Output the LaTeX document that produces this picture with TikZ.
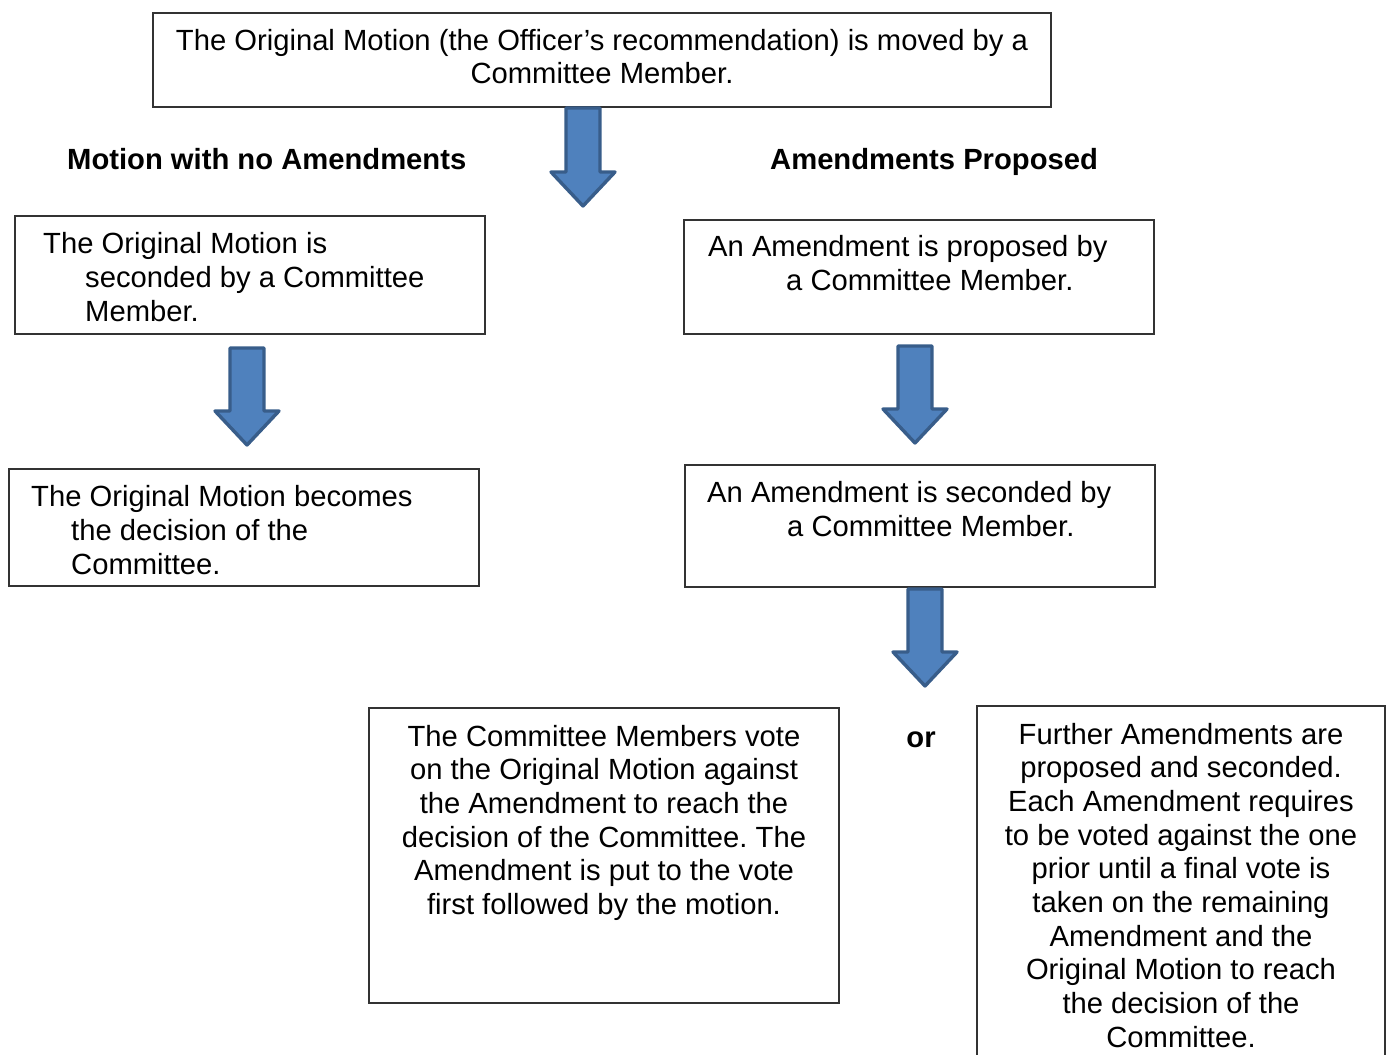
\documentclass[tikz,border=0pt]{standalone}
\usepackage{fontspec}
\setmainfont{Liberation Sans}
\frenchspacing
\definecolor{arrowfill}{HTML}{4F81BD}
\definecolor{arrowline}{HTML}{385D8A}
\begin{document}
\begin{tikzpicture}[x=1pt,y=-1pt,
  box/.style={draw=black!80, line width=1.3pt, inner sep=0pt},
  txt/.style={inner sep=0pt, font=\fontsize{29.2}{33.7}\selectfont},
  head/.style={inner sep=0pt, font=\fontsize{29.2}{33.7}\selectfont\bfseries},
  blockarrow/.style={fill=arrowfill, draw=arrowline, line width=3.4pt, line join=round}]

% page area
\useasboundingbox (0,0) rectangle (1391,1054);

% down block arrow: centre x, top y, tip y
\newcommand\blockdown[3]{%
  \draw[blockarrow] ({#1-17},#2) -- ({#1+17},#2) -- ({#1+17},{#3-34}) -- ({#1+32},{#3-34})
    -- (#1,#3) -- ({#1-32},{#3-34}) -- ({#1-17},{#3-34}) -- cycle;}

% boxes
\node[box, minimum width=898pt, minimum height=94pt] (top) at (602,60) {};
\node[box, minimum width=470pt, minimum height=118pt] (l1) at (250,275) {};
\node[box, minimum width=470pt, minimum height=117pt] (l2) at (244,527.5) {};
\node[box, minimum width=470pt, minimum height=114pt] (r1) at (919,277) {};
\node[box, minimum width=470pt, minimum height=122pt] (r2) at (920,526) {};
\node[box, minimum width=470pt, minimum height=295pt] (mid) at (604,855.5) {};
\draw[draw=black!80, line width=1.3pt] (977,1060) -- (977,706) -- (1385,706) -- (1385,1060);

% arrows
\blockdown{583}{108}{206}
\blockdown{247}{348}{445}
\blockdown{915}{346}{443}
\blockdown{925}{589}{686}

% headings
\node[head, anchor=base west] (hl) at (67,169) {Motion with no Amendments};
\node[head, anchor=base west] (hr) at (770,169) {Amendments Proposed};
\node[head, anchor=base] (or) at (921,747) {or};

% texts (anchored at the baseline of their last line)
\node[txt, anchor=base, align=center] (ttop) at (602,84)
  {The Original Motion (the Officer's recommendation) is moved by a\\Committee Member.};
\node[txt, anchor=base west, align=left] (tl1) at (43,321)
  {The Original Motion is\\\hspace*{42pt}seconded by a Committee\\\hspace*{42pt}Member.};
\node[txt, anchor=base west, align=left] (tl2) at (31,574)
  {The Original Motion becomes\\\hspace*{40pt}the decision of the\\\hspace*{40pt}Committee.};
\node[txt, anchor=base west, align=left] (tr1) at (708,290)
  {An Amendment is proposed by\\\hspace*{78pt}a Committee Member.};
\node[txt, anchor=base west, align=left] (tr2) at (707,536)
  {An Amendment is seconded by\\\hspace*{80pt}a Committee Member.};
\node[txt, anchor=base, align=center] (tmid) at (604,914.5)
  {The Committee Members vote\\on the Original Motion against\\the Amendment to reach the\\decision of the Committee. The\\Amendment is put to the vote\\first followed by the motion.};
\node[txt, anchor=base, align=center] (tright) at (1181,1047.3)
  {Further Amendments are\\proposed and seconded.\\Each Amendment requires\\to be voted against the one\\prior until a final vote is\\taken on the remaining\\Amendment and the\\Original Motion to reach\\the decision of the\\Committee.};
\end{tikzpicture}
\end{document}
